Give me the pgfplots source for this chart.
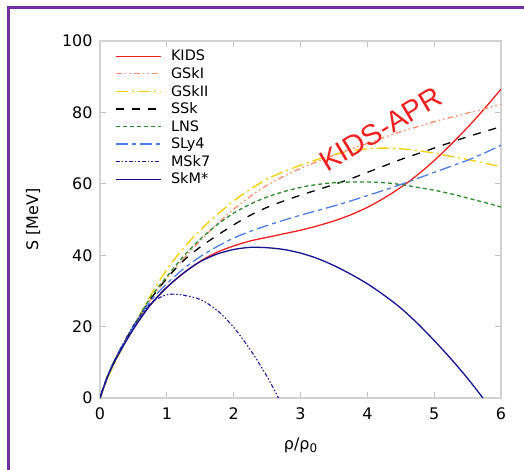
\documentclass[border=0pt]{standalone}
\usepackage{fontspec}
\setmainfont{DejaVu Sans}
\newfontfamily\arialfont{Liberation Sans}
\usepackage{pgfplots}
\pgfplotsset{compat=1.18}
\definecolor{kids}{HTML}{F02020}
\definecolor{gski}{HTML}{FF9070}
\definecolor{gskii}{HTML}{F5D000}
\definecolor{lns}{HTML}{2E8B2E}
\definecolor{sly}{HTML}{4F7FE8}
\definecolor{msk}{HTML}{1A1AA0}
\definecolor{skm}{HTML}{141490}
\definecolor{framepurple}{HTML}{7030A0}
\begin{document}
\begin{tikzpicture}
\path[use as bounding box] (0,0) rectangle (524bp,-470bp);
\draw[framepurple, line width=3bp] (8bp,-470bp) -- (8bp,-7bp) -- (530bp,-7bp);
\begin{axis}[
  at={(100bp,-398bp)}, anchor=south west,
  scale only axis, width=401bp, height=357bp,
  xmin=0, xmax=6, ymin=0, ymax=100,
  xtick={0,1,2,3,4,5,6}, ytick={0,20,40,60,80,100},
  tick align=inside, tick pos=both,
  major tick length=6bp,
  axis line style={gray!35, line width=1.2bp},
  every tick/.style={gray!50, line width=0.8bp},
  /pgf/number format/assume math mode=true,
  tick label style={font=\fontsize{16}{18}\selectfont, black},
  xticklabel style={yshift=-6bp},
  yticklabel style={xshift=-4bp},
  xlabel={ρ/ρ\raisebox{-0.35ex}{\fontsize{12}{12}\selectfont 0}},
  ylabel={S [MeV]},
  label style={font=\fontsize{16}{18}\selectfont},
  xlabel style={at={(axis description cs:0.5,0)}, anchor=north, yshift=-36bp},
  ylabel style={at={(axis description cs:-0.167,0.5)}, anchor=center},
  legend style={at={(0.03,0.985)}, anchor=north west, draw=none, fill=none,
    font=\fontsize{14.5}{16}\selectfont, row sep=2.2bp,
    nodes={inner sep=1.5bp},
    /tikz/every odd column/.append style={column sep=8bp}},
  legend cell align=left,
  legend image code/.code={\draw[#1] (0bp,0bp) -- (45bp,0bp);},
  every axis plot/.append style={line width=1.3bp, smooth, tension=0.5},
  clip=true,
]
\addplot[kids] coordinates {(0,0) (0.1,5.3) (0.2,9.5) (0.3,13.2) (0.5,19.5) (0.75,26) (1,31) (1.25,35) (1.5,38.3) (1.75,40.8) (2,42.6) (2.25,44) (2.5,45) (2.75,46) (3,47) (3.25,48.2) (3.5,49.6) (3.75,51.3) (4,53.4) (4.25,56) (4.5,59) (4.75,62.5) (5,66.5) (5.25,71) (5.5,75.8) (5.75,81) (6,86.5)};
\addlegendentry{KIDS}
\addplot[gski, dash pattern=on 6bp off 3bp on 1.5bp off 3bp on 1.5bp off 3bp] coordinates {(0,0) (0.1,5.3) (0.2,9.5) (0.3,13.2) (0.5,19.8) (0.75,27.3) (1,33.5) (1.25,39) (1.5,44) (1.75,48.7) (2,52.9) (2.25,56.5) (2.5,59.6) (2.75,62.1) (3,64.3) (3.25,66.2) (3.5,68) (3.75,69.7) (4,71.3) (4.25,73) (4.5,74.6) (4.75,76) (5,77.4) (5.25,78.6) (5.5,79.8) (5.75,81) (6,82.3)};
\addlegendentry{GSkI}
\addplot[gskii, dash pattern=on 12bp off 4bp on 2bp off 4bp] coordinates {(0,0) (0.1,5) (0.2,9) (0.3,12.8) (0.5,19.8) (0.75,28.5) (1,36) (1.25,42) (1.5,47) (1.75,51.3) (2,55.2) (2.25,58.5) (2.5,61.3) (2.75,63.4) (3,65.2) (3.25,66.8) (3.5,68.2) (3.75,69.2) (4,69.8) (4.25,70) (4.5,69.8) (4.75,69.3) (5,68.6) (5.25,67.7) (5.5,66.8) (5.75,65.8) (6,64.8)};
\addlegendentry{GSkII}
\addplot[black, dash pattern=on 8bp off 8bp] coordinates {(0,0) (0.1,5.5) (0.2,9.8) (0.3,13.5) (0.5,20) (0.75,27.5) (1,33.5) (1.25,38.5) (1.5,42.3) (1.75,45.5) (2,48.5) (2.25,51.2) (2.5,53.4) (2.75,55.2) (3,56.8) (3.25,58.3) (3.5,59.8) (3.75,61.4) (4,63.2) (4.25,65) (4.5,66.8) (4.75,68.4) (5,70) (5.25,71.6) (5.5,73.2) (5.75,74.6) (6,76)};
\addlegendentry{SSk}
\addplot[lns, dash pattern=on 4bp off 3bp] coordinates {(0,0) (0.1,5.5) (0.2,9.8) (0.3,13.5) (0.5,20) (0.75,28) (1,34) (1.25,39.7) (1.5,44.5) (1.75,48.5) (2,51.8) (2.25,54.3) (2.5,56.3) (2.75,57.8) (3,59) (3.25,59.8) (3.5,60.3) (3.75,60.5) (4,60.5) (4.25,60.3) (4.5,59.8) (4.75,59) (5,58.2) (5.25,57.2) (5.5,56) (5.75,54.8) (6,53.5)};
\addlegendentry{LNS}
\addplot[sly, dash pattern=on 12bp off 4bp on 4bp off 4bp] coordinates {(0,0) (0.1,5.5) (0.2,9.8) (0.3,13.5) (0.5,20) (0.75,27) (1,32) (1.25,36.2) (1.5,39.6) (1.75,42.4) (2,44.8) (2.25,46.7) (2.5,48.3) (2.75,49.8) (3,51.2) (3.25,52.5) (3.5,53.8) (3.75,55.2) (4,56.7) (4.25,58.2) (4.5,59.8) (4.75,61.5) (5,63.2) (5.25,64.9) (5.5,66.6) (5.75,68.6) (6,70.8)};
\addlegendentry{SLy4}
\addplot[msk, line width=1.1bp, dash pattern=on 4bp off 2bp on 1.5bp off 2bp on 1.5bp off 2bp] coordinates {(0,0) (0.1,5.5) (0.2,9.8) (0.3,13.5) (0.5,20.3) (0.75,26.3) (0.9,28.2) (1,28.9) (1.1,29.1) (1.25,28.8) (1.5,27.6) (1.75,24.6) (2,19.8) (2.25,13.5) (2.5,6) (2.67,0)};
\addlegendentry{MSk7}
\addplot[skm] coordinates {(0,0) (0.1,5.3) (0.2,9.5) (0.3,13) (0.5,19.3) (0.75,26) (1,31) (1.25,35) (1.5,38.2) (1.75,40.3) (2,41.6) (2.25,42.2) (2.5,42.1) (2.75,41.6) (3,40.6) (3.25,39.1) (3.5,37.1) (3.75,34.7) (4,32) (4.25,28.8) (4.5,25.2) (4.75,20.9) (5,16.1) (5.25,11) (5.5,5.5) (5.73,0)};
\addlegendentry{SkM*}
\node[kids, rotate=31, font=\arialfont\fontsize{29}{30}\selectfont] at (axis cs:4.2,75.3) {KIDS-APR};
\end{axis}
\end{tikzpicture}
\end{document}
